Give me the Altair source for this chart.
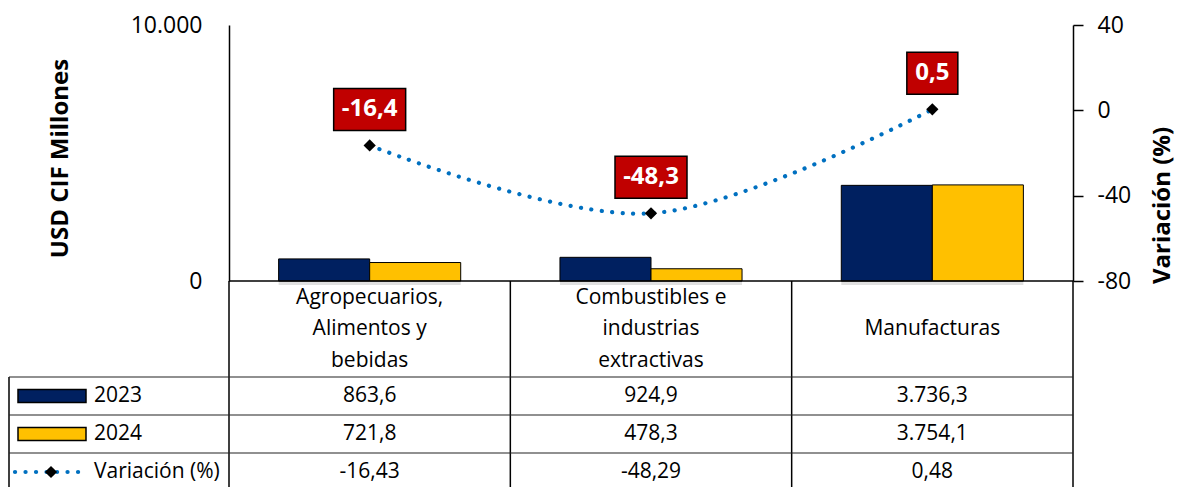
import altair as alt
import pandas as pd

# ---------------- data ----------------
categories = ["Agropecuarios,\nAlimentos y\nbebidas",
              "Combustibles e\nindustrias\nextractivas",
              "Manufacturas"]
years = ["2023", "2024"]
values_2023 = [863.6, 924.9, 3736.3]
values_2024 = [721.8, 478.3, 3754.1]
variation = [-16.43, -48.29, 0.48]
left_ticks = [0, 10000]
right_ticks = [-80, -40, 0, 40]
row_labels = ["2023", "2024", "Variación (%)"]

NAVY = "#002060"
GOLD = "#FFC000"
RED = "#C00000"
BLUE = "#0070C0"
FONT = "Open Sans"


def es(v, d):
    s = f"{v:,.{d}f}"
    return s.replace(",", "_").replace(".", ",").replace("_", ".")


bars_df = pd.DataFrame({
    "cat": categories * 2,
    "year": ["2023"] * 3 + ["2024"] * 3,
    "value": values_2023 + values_2024,
})
var_df = pd.DataFrame({
    "cat": categories,
    "var": variation,
    "label": [es(v, 1) for v in variation],
})
cells_df = pd.DataFrame({
    "cat": categories * 3,
    "row": [row_labels[0]] * 3 + [row_labels[1]] * 3 + [row_labels[2]] * 3,
    "text": [es(v, 1) for v in values_2023] + [es(v, 1) for v in values_2024]
            + [es(v, 2) for v in variation],
})
cat_df = pd.DataFrame({"cat": categories})
one = pd.DataFrame({"k": [0]})

W, H, TH = 844, 256, 210

X = alt.X("cat:N", sort=categories,
          scale=alt.Scale(domain=categories, paddingInner=0, paddingOuter=0),
          axis=None)

# ---------------- top panel ----------------
XO = alt.XOffset("year:N", scale=alt.Scale(domain=years, paddingInner=0, paddingOuter=0.545))
YL = alt.Y("value:Q", scale=alt.Scale(domain=[0, 10000], nice=False, zero=True),
           axis=alt.Axis(orient="left", values=left_ticks,
                         labelExpr="replace(format(datum.value, ','), ',', '.')",
                         title="USD CIF Millones", titleFont=FONT, titleFontSize=24,
                         titleFontWeight="bold", titleColor="black",
                         titleAngle=270, titleX=-169, titleY=133,
                         titleAlign="center", titleBaseline="middle",
                         labelFont=FONT, labelFontSize=23, labelColor="black",
                         tickSize=0, labelPadding=27, domainColor="black",
                         domainWidth=1.5, grid=False))

shadow = alt.Chart(bars_df).mark_bar(fill="#000000", opacity=0.12, xOffset=5, yOffset=4).encode(
    x=X, xOffset=XO, y=YL)
bars = alt.Chart(bars_df).mark_bar(stroke="black", strokeWidth=1).encode(
    x=X, xOffset=XO, y=YL,
    color=alt.Color("year:N", scale=alt.Scale(domain=years, range=[NAVY, GOLD]), legend=None),
)

Yv = alt.Y("var:Q", scale=alt.Scale(domain=[-80, 40], nice=False, zero=False),
           axis=alt.Axis(orient="right", values=right_ticks, title="Variación (%)",
                         labelExpr="'' + datum.value",
                         titleFont=FONT, titleFontSize=24, titleFontWeight="bold",
                         titleColor="black", titleAngle=270, titleX=89, titleY=180,
                         titleAlign="center", titleBaseline="middle",
                         labelFont=FONT, labelFontSize=23, labelColor="black",
                         tickSize=10, tickColor="black", tickWidth=1.5,
                         labelPadding=14, domainColor="black", domainWidth=1.5,
                         grid=False))

line = alt.Chart(var_df).mark_line(color=BLUE, strokeWidth=4.2, strokeDash=[0.1, 10.4],
                                   strokeCap="round", interpolate="cardinal").encode(x=X, y=Yv)
pts = alt.Chart(var_df).mark_point(shape="diamond", filled=True, color="black",
                                   size=150, opacity=1).encode(x=X, y=Yv)
boxes = alt.Chart(var_df).transform_calculate(
    boxw="length(datum.label) > 3 ? 72 : 51"
).mark_bar(color=RED, stroke="black", strokeWidth=1.5, yOffset=-57, y2Offset=-15).encode(
    x=X, y=Yv, y2="var:Q", size=alt.Size("boxw:Q", scale=None, legend=None))
labels = alt.Chart(var_df).mark_text(font=FONT, fontSize=24, fontWeight="bold", color="white",
                                     yOffset=-36, baseline="middle").encode(
    x=X, y=Yv, text="label:N")

top = alt.layer(alt.layer(shadow, bars), alt.layer(line, pts, boxes, labels)).resolve_scale(
    y="independent").properties(width=W, height=H)

# ---------------- table panel ----------------
row_y = [115, 153, 191]
TF = 21
header_multi = alt.Chart(cat_df).transform_filter(
    "indexof(datum.cat, '\\n') >= 0"
).mark_text(font=FONT, fontSize=TF, lineBreak="\n", lineHeight=31.5,
            baseline="middle", color="black").encode(
    x=X, y=alt.value(48 - 31.5), text="cat:N")
header_single = alt.Chart(cat_df).transform_filter(
    "indexof(datum.cat, '\\n') < 0"
).mark_text(font=FONT, fontSize=TF, baseline="middle", color="black").encode(
    x=X, y=alt.value(48), text="cat:N")

cell_layers = []
for r, yy in zip(row_labels, row_y):
    cell_layers.append(
        alt.Chart(cells_df).transform_filter(alt.datum.row == r).mark_text(
            font=FONT, fontSize=TF, baseline="middle", color="black").encode(
            x=X, y=alt.value(yy), text="text:N"))

legend_text = []
for r, yy in zip(row_labels, row_y):
    legend_text.append(alt.Chart(one).mark_text(font=FONT, fontSize=TF, baseline="middle",
                                                align="left", color="black").encode(
        x=alt.value(-135), y=alt.value(yy), text=alt.value(r)))

sw1 = alt.Chart(one).mark_rect(fill=NAVY, stroke="black", strokeWidth=1.5).encode(
    x=alt.value(-211), x2=alt.value(-143), y=alt.value(row_y[0] - 6.5), y2=alt.value(row_y[0] + 6.5))
sw2 = alt.Chart(one).mark_rect(fill=GOLD, stroke="black", strokeWidth=1.5).encode(
    x=alt.value(-211), x2=alt.value(-143), y=alt.value(row_y[1] - 6.5), y2=alt.value(row_y[1] + 6.5))
lg_line = alt.Chart(one).mark_rule(color=BLUE, strokeWidth=4.2, strokeDash=[0.1, 10.4],
                                   strokeCap="round").encode(
    x=alt.value(-214), x2=alt.value(-142), y=alt.value(row_y[2]))
lg_pt = alt.Chart(one).mark_point(shape="diamond", filled=True, color="black", size=150,
                                  opacity=1).encode(x=alt.value(-178), y=alt.value(row_y[2]))

vlines = alt.Chart(cat_df).mark_rule(color="black", strokeWidth=1.5).encode(
    x=alt.X("cat:N", sort=categories, bandPosition=0,
            scale=alt.Scale(domain=categories, paddingInner=0, paddingOuter=0), axis=None),
    y=alt.value(0), y2=alt.value(TH))
vright = alt.Chart(one).mark_rule(color="black", strokeWidth=1.5).encode(
    x=alt.value(W), y=alt.value(0), y2=alt.value(TH))
vleft = alt.Chart(one).mark_rule(color="black", strokeWidth=1.5).encode(
    x=alt.value(-220), y=alt.value(96), y2=alt.value(TH))
htop = alt.Chart(one).mark_rule(color="black", strokeWidth=1.5).encode(
    x=alt.value(0), x2=alt.value(W), y=alt.value(0))
hlines = [alt.Chart(one).mark_rule(color="#222222", strokeWidth=1.2).encode(
    x=alt.value(-220), x2=alt.value(W), y=alt.value(yy)) for yy in [96, 134, 172, 210]]

table = alt.layer(header_multi, header_single, *cell_layers, *legend_text, sw1, sw2,
                  lg_line, lg_pt, vlines, vright, vleft, htop, *hlines).properties(
    width=W, height=TH)

chart = alt.vconcat(top, table, spacing=0, bounds="flush").properties(
    padding={"left": 0, "top": 6, "right": 3, "bottom": 0}
).configure_view(stroke=None)

chart.save("out.html", embed_options={"renderer": "svg", "actions": False})
